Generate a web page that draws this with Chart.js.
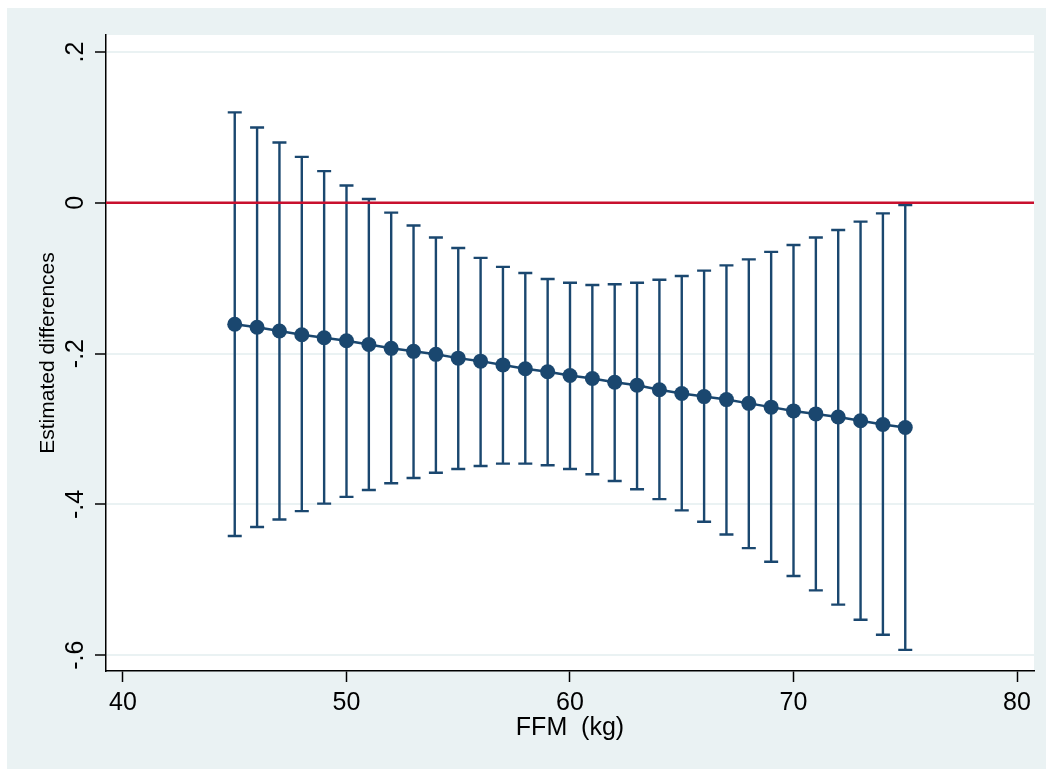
<!DOCTYPE html>
<html>
<head>
<meta charset="utf-8">
<script src="https://cdn.jsdelivr.net/npm/chart.js@4"></script>
<style>
    html, body { margin: 0; padding: 0; background: #fff; }
    #wrap { position: absolute; left: 7px; top: 8px; width: 1039px; height: 761px; background: #eaf2f3; }
</style>
</head>
<body>
<div id="wrap"><canvas id="ciChart" width="1039" height="761"></canvas></div>
<script>
const ffm = [45, 46, 47, 48, 49, 50, 51, 52, 53, 54, 55, 56, 57, 58, 59, 60,
    61, 62, 63, 64, 65, 66, 67, 68, 69, 70, 71, 72, 73, 74, 75];
const estimate = [-0.161, -0.165, -0.170, -0.175, -0.179, -0.183, -0.188, -0.193, -0.197, -0.201, -0.206,
    -0.210, -0.215, -0.220, -0.224, -0.229, -0.233, -0.238, -0.242, -0.248, -0.253,
    -0.257, -0.261, -0.266, -0.271, -0.276, -0.280, -0.284, -0.289, -0.294, -0.298];
const upper = [0.120, 0.100, 0.080, 0.061, 0.042, 0.023, 0.005, -0.013, -0.030, -0.046, -0.060,
    -0.073, -0.085, -0.093, -0.101, -0.106, -0.109, -0.108, -0.106, -0.102, -0.097,
    -0.090, -0.083, -0.075, -0.065, -0.056, -0.046, -0.036, -0.025, -0.014, -0.003];
const lower = [-0.442, -0.430, -0.420, -0.409, -0.399, -0.390, -0.381, -0.372, -0.365, -0.358, -0.353,
    -0.349, -0.346, -0.346, -0.348, -0.353, -0.360, -0.369, -0.380, -0.393, -0.408,
    -0.423, -0.440, -0.458, -0.476, -0.495, -0.514, -0.533, -0.553, -0.573, -0.593];

const xTicks = [40, 50, 60, 70, 80];
const yTicks = [0.2, 0, -0.2, -0.4, -0.6];
const yTickLabels = ['.2', '0', '-.2', '-.4', '-.6'];
const refLine = 0;

const navy = '#1a476f';
const red = '#c8102e';
const font = '"Liberation Sans", Arial, sans-serif';

// white plot region + red reference line + CI bars, drawn under the markers
const ciBars = {
    id: 'ciBars',
    beforeDraw(chart) {
        const { ctx, chartArea: a } = chart;
        ctx.save();
        ctx.fillStyle = '#fff';
        ctx.fillRect(a.left, a.top, a.right - a.left, a.bottom - a.top);
        ctx.restore();
    },
    beforeDatasetsDraw(chart) {
        const { ctx, chartArea: a, scales: { x, y } } = chart;
        ctx.save();
        ctx.strokeStyle = navy;
        ctx.lineWidth = 2.4;
        ffm.forEach((v, i) => {
            const px = x.getPixelForValue(v);
            const yu = y.getPixelForValue(upper[i]);
            const yl = y.getPixelForValue(lower[i]);
            ctx.beginPath();
            ctx.moveTo(px, yu);
            ctx.lineTo(px, yl);
            ctx.moveTo(px - 7, yu);
            ctx.lineTo(px + 7, yu);
            ctx.moveTo(px - 7, yl);
            ctx.lineTo(px + 7, yl);
            ctx.stroke();
        });
        const py = y.getPixelForValue(refLine);
        ctx.strokeStyle = red;
        ctx.lineWidth = 2.5;
        ctx.beginPath();
        ctx.moveTo(a.left, py);
        ctx.lineTo(a.right, py);
        ctx.stroke();
        ctx.restore();
    },
    afterDraw(chart) {
        // rotated y tick labels, Stata style
        const { ctx, chartArea: a, scales: { y } } = chart;
        ctx.save();
        ctx.font = '25px ' + font;
        ctx.fillStyle = '#000';
        ctx.textAlign = 'center';
        ctx.textBaseline = 'alphabetic';
        yTicks.forEach((v, i) => {
            ctx.save();
            ctx.translate(a.left - 23, y.getPixelForValue(v));
            ctx.rotate(-Math.PI / 2);
            ctx.fillText(yTickLabels[i], 0, 0);
            ctx.restore();
        });
        ctx.restore();
    },
};

new Chart(document.getElementById('ciChart'), {
    type: 'line',
    data: {
        datasets: [
            {
                data: ffm.map((v, i) => ({ x: v, y: estimate[i] })),
                borderColor: navy,
                borderWidth: 2.5,
                pointRadius: 7.5,
                pointHoverRadius: 7.5,
                pointBorderWidth: 0,
                pointBackgroundColor: navy,
                tension: 0,
            },
        ],
    },
    options: {
        responsive: false,
        animation: false,
        devicePixelRatio: 1,
        layout: { padding: { left: 0, right: 12, top: 27, bottom: 0 } },
        plugins: { legend: { display: false }, tooltip: { enabled: false } },
        scales: {
            x: {
                type: 'linear',
                min: 39.24,
                max: 80.76,
                afterBuildTicks: (s) => { s.ticks = xTicks.map((v) => ({ value: v })); },
                afterFit: (s) => { s.height = 98; },
                border: { color: '#000', width: 1.5 },
                grid: { drawOnChartArea: false, tickColor: '#000', tickLength: 11, tickWidth: 1.5 },
                ticks: { color: '#000', font: { family: font, size: 25 }, padding: 6, maxRotation: 0 },
                title: {
                    display: true,
                    text: 'FFM  (kg)',
                    color: '#000',
                    font: { family: font, size: 25 },
                    padding: { top: 0, bottom: 26 },
                },
            },
            y: {
                type: 'linear',
                min: -0.621,
                max: 0.2226,
                afterBuildTicks: (s) => { s.ticks = yTicks.map((v) => ({ value: v })); },
                afterFit: (s) => { s.width = 99; },
                border: { color: '#000', width: 1.5 },
                grid: { color: '#eaf2f3', lineWidth: 2, tickColor: '#000', tickLength: 11, tickWidth: 1.5 },
                ticks: { display: false },
                title: {
                    display: true,
                    text: 'Estimated differences',
                    color: '#000',
                    font: { family: font, size: 21 },
                    padding: { top: 29, bottom: 0 },
                },
            },
        },
    },
    plugins: [ciBars],
});
</script>
</body>
</html>
